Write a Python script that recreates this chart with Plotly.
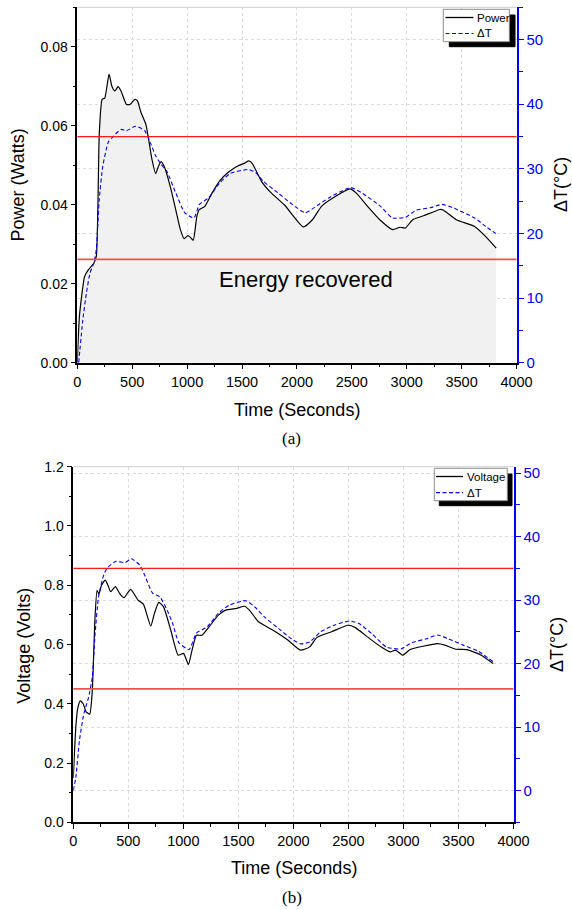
import plotly.graph_objects as go

# ---------------- data ----------------
t_power = [0, 20, 66, 100, 150, 173, 200, 226, 250, 289, 315, 342, 372, 398, 448, 481, 524, 548, 581, 624,
           647, 680, 714, 740, 763, 790, 846, 896, 939, 973, 1006, 1029, 1056, 1089, 1112, 1162, 1228, 1295,
           1378, 1461, 1527, 1560, 1593, 1676, 1759, 1892, 2058, 2141, 2224, 2357, 2483, 2539, 2656, 2755,
           2871, 2938, 2988, 3054, 3154, 3303, 3336, 3452, 3618, 3718, 3815]
power = [0.0, 0.012, 0.0218, 0.0235, 0.0252, 0.0269, 0.058, 0.0667, 0.067, 0.0731, 0.070, 0.0688, 0.0699,
         0.0688, 0.0654, 0.0654, 0.0667, 0.0663, 0.0633, 0.0604, 0.057, 0.0515, 0.0479, 0.0498, 0.0509,
         0.0498, 0.0447, 0.0388, 0.0337, 0.0314, 0.0322, 0.0318, 0.031, 0.0371, 0.0388, 0.0396, 0.043,
         0.046, 0.0483, 0.0498, 0.0506, 0.0511, 0.0505, 0.046, 0.0432, 0.0398, 0.0344, 0.0362, 0.0396,
         0.0422, 0.044, 0.043, 0.0392, 0.0362, 0.0337, 0.0343, 0.0341, 0.0362, 0.0372, 0.0388, 0.0386,
         0.0362, 0.0345, 0.032, 0.029]

t_dt_a = [13, 50, 83, 116, 150, 173, 200, 232, 282, 332, 398, 448, 531, 614, 664, 714, 763, 813, 896, 979,
          1062, 1112, 1195, 1295, 1394, 1560, 1627, 1693, 1826, 1958, 2075, 2158, 2290, 2490, 2589, 2755,
          2871, 2988, 3087, 3220, 3320, 3419, 3618, 3718, 3811]
dt_a = [0.0, 6.6, 10.8, 13.9, 15.4, 17.5, 25.3, 30.4, 34.1, 35.1, 36.1, 35.9, 36.6, 35.9, 34.1, 32.0, 30.7,
        29.7, 26.3, 23.2, 22.4, 24.5, 25.5, 27.8, 29.3, 29.9, 29.4, 28.1, 26.3, 24.5, 23.2, 24.0, 25.5,
        27.1, 26.3, 24.3, 22.4, 22.5, 23.6, 24.0, 24.5, 24.0, 22.4, 21.1, 20.0]

t_volt = [0, 23, 40, 63, 90, 116, 149, 173, 196, 216, 232, 256, 289, 315, 339, 382, 422, 461, 521, 588, 637,
          704, 737, 777, 820, 886, 953, 1002, 1046, 1079, 1119, 1168, 1235, 1318, 1384, 1484, 1557, 1600,
          1683, 1816, 1949, 2065, 2148, 2214, 2347, 2496, 2563, 2679, 2795, 2878, 2928, 2994, 3061, 3177,
          3310, 3376, 3476, 3575, 3708, 3814]
voltage = [0.15, 0.322, 0.384, 0.41, 0.40, 0.373, 0.365, 0.446, 0.682, 0.783, 0.77, 0.80, 0.817, 0.80,
           0.778, 0.795, 0.772, 0.758, 0.786, 0.75, 0.736, 0.662, 0.705, 0.742, 0.727, 0.648, 0.564, 0.57,
           0.532, 0.581, 0.631, 0.631, 0.66, 0.699, 0.716, 0.722, 0.729, 0.716, 0.677, 0.648, 0.615, 0.581,
           0.592, 0.624, 0.643, 0.665, 0.657, 0.624, 0.592, 0.575, 0.581, 0.564, 0.583, 0.594, 0.603,
           0.598, 0.584, 0.583, 0.564, 0.536]

t_dt_b = [0, 23, 56, 96, 139, 173, 196, 229, 272, 305, 388, 471, 528, 604, 654, 720, 787, 853, 903, 959,
          1052, 1119, 1218, 1318, 1417, 1567, 1650, 1733, 1866, 1982, 2065, 2148, 2247, 2380, 2513, 2596,
          2712, 2845, 2978, 3077, 3210, 3310, 3409, 3542, 3675, 3814]
dt_b = [0.0, 2.1, 7.9, 12.1, 14.7, 17.9, 24.2, 30.5, 33.7, 35.0, 36.1, 35.9, 36.5, 35.5, 33.7, 31.1, 30.5,
        28.4, 26.3, 23.3, 22.2, 24.8, 25.8, 27.9, 29.2, 29.9, 28.9, 27.4, 25.5, 23.9, 23.1, 23.4, 25.0,
        26.1, 26.7, 26.3, 24.7, 22.6, 22.3, 23.3, 23.9, 24.5, 23.9, 22.9, 22.0, 20.3]

limit_lines = [35, 16]   # red reference lines, in ΔT units

# ---------------- layout constants ----------------
W, H = 572, 910
FONT = "Liberation Sans, Arial, sans-serif"
SERIF = "Liberation Serif, Times New Roman, serif"
BLUE = "#0000ff"
DASH = "4px,2.5px"

def px_x(p):
    return p / W

def px_y(p):
    return 1 - p / H

xa_dom = [px_x(77.3), px_x(516.5)]
ya_dom = [px_y(362.7), px_y(7.3)]
xb_dom = [px_x(73.3), px_x(513.5)]
yb_dom = [px_y(822.3), px_y(466.7)]

fig = go.Figure()

# top panel
fig.add_trace(go.Scatter(x=t_power, y=power, mode="lines", name="Power",
                         line=dict(color="black", width=1.2, shape="spline", smoothing=0.5),
                         fill="tozeroy", fillcolor="#f1f1f1",
                         xaxis="x", yaxis="y", showlegend=False))
fig.add_trace(go.Scatter(x=t_dt_a, y=dt_a, mode="lines", name="ΔT",
                         line=dict(color=BLUE, width=1.1, dash=DASH, shape="spline", smoothing=0.5),
                         xaxis="x", yaxis="y2", showlegend=False))
# bottom panel
fig.add_trace(go.Scatter(x=t_volt, y=voltage, mode="lines", name="Voltage",
                         line=dict(color="black", width=1.2, shape="spline", smoothing=0.5),
                         xaxis="x2", yaxis="y3", showlegend=False))
fig.add_trace(go.Scatter(x=t_dt_b, y=dt_b, mode="lines", name="ΔT",
                         line=dict(color=BLUE, width=1.1, dash=DASH, shape="spline", smoothing=0.5),
                         xaxis="x2", yaxis="y4", showlegend=False))

GRID = "#dadada"

def xaxis(dom, anchor):
    return dict(domain=dom, anchor=anchor, range=[0, 4000], dtick=500, tick0=0,
                showline=True, linecolor="black", linewidth=1.5, ticks="outside", ticklen=5,
                tickwidth=1, tickcolor="black",
                tickfont=dict(family=FONT, size=14.5, color="black"), zeroline=False,
                showgrid=True, gridcolor=GRID, griddash="dot", gridwidth=1,
                minor=dict(dtick=250, ticks="outside", ticklen=3, tickcolor="black", showgrid=False),
                fixedrange=True)

def yleft(dom, anchor, rng, dt, fmt):
    return dict(domain=dom, anchor=anchor, range=rng, dtick=dt, tick0=0, tickformat=fmt,
                showline=True, linecolor="black", linewidth=1.5, ticks="outside", ticklen=5,
                tickwidth=1, tickcolor="black",
                tickfont=dict(family=FONT, size=14, color="black"), zeroline=False, showgrid=False,
                minor=dict(dtick=dt / 2, ticks="outside", ticklen=3, tickcolor="black", showgrid=False),
                fixedrange=True)

def yright(overlay, anchor, rng):
    return dict(overlaying=overlay, anchor=anchor, side="right", range=rng, dtick=10, tick0=0,
                showline=True, linecolor=BLUE, linewidth=2, ticks="outside", ticklen=5,
                tickwidth=1.2, tickcolor=BLUE,
                tickfont=dict(family=FONT, size=15, color=BLUE), zeroline=False,
                showgrid=True, gridcolor=GRID, griddash="dot", gridwidth=1,
                minor=dict(dtick=5, ticks="outside", ticklen=4, tickcolor=BLUE, showgrid=False),
                fixedrange=True)

shapes = []
# light top frame of each plot
for xr, yr in (("x", "y"), ("x2", "y3")):
    shapes.append(dict(type="line", xref=xr + " domain", yref=yr + " domain", x0=0, x1=1, y0=1, y1=1,
                       line=dict(color="#d0d0d0", width=1), layer="below"))
# red limit lines
for i, v in enumerate(limit_lines):
    for xr, yr in (("x", "y2"), ("x2", "y4")):
        shapes.append(dict(type="line", xref=xr + " domain", yref=yr, x0=0, x1=1, y0=v, y1=v,
                           line=dict(color="#ff1a1a" if i == 0 else "#f05050",
                                     width=1.3 if i == 0 else 1.8),
                           layer="above"))

annotations = []

# manual legends (box with drop shadow) -- positions in pixels
legends = [
    dict(box=(443.3, 9.3, 509.3, 41.7), shadow=(449.3, 15, 515, 46.7), line_x=(445.5, 473.5), text_x=475,
         rows=[("Power", "black", "solid", 17.5), ("ΔT", BLUE, DASH, 33.5)]),
    dict(box=(434.3, 468.3, 507.3, 500.7), shadow=(439.3, 474, 512, 505.7), line_x=(436, 463), text_x=465,
         rows=[("Voltage", "black", "solid", 476.5), ("ΔT", BLUE, DASH, 492.7)]),
]
for lg in legends:
    sx0, sy0, sx1, sy1 = lg["shadow"]
    shapes.append(dict(type="rect", xref="paper", yref="paper", x0=px_x(sx0), x1=px_x(sx1),
                       y0=px_y(sy1), y1=px_y(sy0), fillcolor="#000000",
                       line=dict(color="#000000", width=1), layer="above"))
    bx0, by0, bx1, by1 = lg["box"]
    shapes.append(dict(type="rect", xref="paper", yref="paper", x0=px_x(bx0), x1=px_x(bx1),
                       y0=px_y(by1), y1=px_y(by0), fillcolor="white",
                       line=dict(color="#8c8c8c", width=1), layer="above"))
    for label, color, dash, ry in lg["rows"]:
        shapes.append(dict(type="line", xref="paper", yref="paper", x0=px_x(lg["line_x"][0]),
                           x1=px_x(lg["line_x"][1]), y0=px_y(ry), y1=px_y(ry),
                           line=dict(color=color, width=1.3 if color == "black" else 1.2, dash=dash),
                           layer="above"))
        annotations.append(dict(text=label, xref="paper", yref="paper", x=px_x(lg["text_x"]), y=px_y(ry),
                                xanchor="left", yanchor="middle", showarrow=False,
                                font=dict(family=FONT, size=11.5, color="black")))

ann_common = dict(xref="paper", yref="paper", showarrow=False, xanchor="center", yanchor="middle")
title_font = dict(family=FONT, size=18, color="black")
annotations += [
    dict(text="Power (Watts)", x=px_x(17.5), y=px_y(185), textangle=-90, font=title_font, **ann_common),
    dict(text="ΔT(°C)", x=px_x(561), y=px_y(185), textangle=-90, font=title_font, **ann_common),
    dict(text="Time (Seconds)", x=px_x(297), y=px_y(410), font=title_font, **ann_common),
    dict(text="(a)", x=px_x(291.5), y=px_y(438), font=dict(family=SERIF, size=17, color="black"),
         **ann_common),
    dict(text="Energy recovered", x=2083, y=0.0210, xref="x", yref="y", showarrow=False,
         font=dict(family=FONT, size=22, color="black")),
    dict(text="Voltage (Volts)", x=px_x(23.7), y=px_y(646), textangle=-90, font=title_font, **ann_common),
    dict(text="ΔT(°C)", x=px_x(557), y=px_y(645), textangle=-90, font=title_font, **ann_common),
    dict(text="Time (Seconds)", x=px_x(294), y=px_y(868), font=title_font, **ann_common),
    dict(text="(b)", x=px_x(292), y=px_y(897), font=dict(family=SERIF, size=17, color="black"),
         **ann_common),
]

fig.update_layout(
    width=W, height=H,
    margin=dict(l=0, r=0, t=0, b=0, autoexpand=False),
    paper_bgcolor="white", plot_bgcolor="white",
    showlegend=False,
    xaxis=xaxis(xa_dom, "y"),
    yaxis=yleft(ya_dom, "x", [0, 0.09], 0.02, ".2f"),
    yaxis2=yright("y", "x", [0, 55]),
    xaxis2=xaxis(xb_dom, "y3"),
    yaxis3=yleft(yb_dom, "x2", [0, 1.2], 0.2, ".1f"),
    yaxis4=yright("y3", "x2", [-5, 51]),
    shapes=shapes,
    annotations=annotations,
)

fig.write_html("out.html")
